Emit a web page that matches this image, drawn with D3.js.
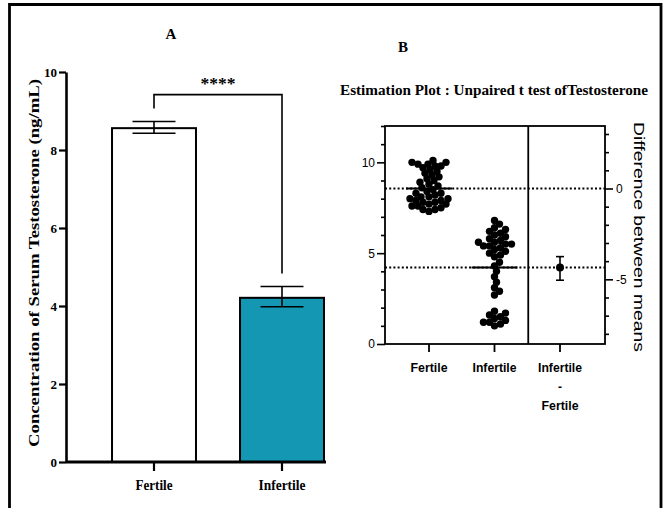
<!DOCTYPE html>
<html>
<head>
<meta charset="utf-8">
<script src="https://cdn.jsdelivr.net/npm/d3@7"></script>
<style>
  body { margin: 0; background: #fff; }
  svg { display: block; }
</style>
</head>
<body>
<svg id="chart"></svg>
<script>
// ---- data, panel A (bar chart of means with SEM) ----
const groups = ["Fertile", "Infertile"];
const meanConc = [8.56, 4.21];
const errLow = [8.43, 3.98];
const errHigh = [8.73, 4.50];
const barColors = ["#ffffff", "#1497b2"];
const yTicksA = [0, 2, 4, 6, 8, 10];
const sigLabel = "****";

// ---- data, panel B (estimation plot) ----
const fertileValues = [10.1, 10.0, 10.0, 9.9, 9.9, 9.8, 9.8, 9.7, 9.6, 9.5,
  9.4, 9.3, 9.2, 9.1, 9.0, 8.9, 8.8, 8.7, 8.6, 8.5,
  8.4, 8.3, 8.3, 8.2, 8.1, 8.1, 8.0, 8.0, 7.9, 7.9,
  7.8, 7.8, 7.7, 7.7, 7.6, 7.6, 7.5, 7.4, 7.4, 7.3];
const infertileValues = [6.8, 6.6, 6.4, 6.3, 6.2, 6.1, 6.0, 5.9, 5.8, 5.7,
  5.6, 5.6, 5.5, 5.5, 5.4, 5.4, 5.3, 5.2, 5.1, 5.0, 4.9, 4.8,
  4.5, 4.3, 4.0, 3.7, 3.4, 3.1, 2.9, 2.7,
  1.8, 1.7, 1.6, 1.5, 1.4, 1.3, 1.2, 1.2, 1.1, 1.0];
const estGroups = ["Fertile", "Infertile", "Infertile - Fertile"];
const diffMean = [-4.35];
const diffCI = [-5.05, -3.75];
const yTicksB = d3.range(0, 13);
const dTicksB = d3.range(-8, 4);

const serif = "'Liberation Serif', 'Times New Roman', serif";
const sans = "'Liberation Sans', Arial, sans-serif";

const svg = d3.select("#chart")
    .attr("width", 664)
    .attr("height", 508);

svg.append("rect").attr("width", 664).attr("height", 508).attr("fill", "#fff");

// outer frame (open at the bottom)
svg.append("path")
    .attr("d", "M9.5,520 V4.5 H661 V520")
    .attr("fill", "none")
    .attr("stroke", "#000")
    .attr("stroke-width", 2.8);

//////////////////////////// panel A
const xA = d3.scaleBand()
    .domain(groups)
    .range([90, 346])
    .paddingInner(0.344)
    .paddingOuter(0.172);

const yA = d3.scaleLinear()
    .domain([0, 10])
    .range([462, 72]);

const gA = svg.append("g");

gA.append("text")
    .attr("x", 171).attr("y", 39)
    .attr("text-anchor", "middle")
    .style("font", "bold 15px " + serif)
    .text("A");

// bars
gA.selectAll(".bar")
    .data(groups)
    .enter()
    .append("rect")
    .attr("class", "bar")
    .attr("x", d => xA(d))
    .attr("y", (d, i) => yA(meanConc[i]))
    .attr("width", xA.bandwidth())
    .attr("height", (d, i) => yA(0) - yA(meanConc[i]))
    .attr("fill", (d, i) => barColors[i])
    .attr("stroke", "#000")
    .attr("stroke-width", 2);

// error bars
const capW = 43;
groups.forEach((g, i) => {
    const cx = xA(g) + xA.bandwidth() / 2;
    gA.append("line")
        .attr("x1", cx).attr("x2", cx)
        .attr("y1", yA(errHigh[i])).attr("y2", yA(errLow[i]))
        .attr("stroke", "#000").attr("stroke-width", 1.6);
    [errHigh[i], errLow[i]].forEach(v => {
        gA.append("line")
            .attr("x1", cx - capW / 2).attr("x2", cx + capW / 2)
            .attr("y1", yA(v)).attr("y2", yA(v))
            .attr("stroke", "#000").attr("stroke-width", 1.6);
    });
});

// y axis
const yAxisA = gA.append("g")
    .attr("transform", "translate(66,0)")
    .call(d3.axisLeft(yA).tickValues(yTicksA).tickSize(7).tickPadding(2).tickSizeOuter(0));
yAxisA.select(".domain").attr("stroke-width", 2.6);
yAxisA.selectAll(".tick line").attr("stroke-width", 2.2);
yAxisA.selectAll(".tick text")
    .style("font", "bold 13px " + serif)
    .attr("fill", "#000");

// x axis
gA.append("line")
    .attr("x1", 66).attr("x2", 326)
    .attr("y1", yA(0)).attr("y2", yA(0))
    .attr("stroke", "#000").attr("stroke-width", 2.8);
const xLabW = [37, 47];
groups.forEach((g, i) => {
    const cx = xA(g) + xA.bandwidth() / 2;
    gA.append("line")
        .attr("x1", cx).attr("x2", cx)
        .attr("y1", yA(0)).attr("y2", yA(0) + 9)
        .attr("stroke", "#000").attr("stroke-width", 2.2);
    gA.append("text")
        .attr("x", cx).attr("y", 490)
        .attr("text-anchor", "middle")
        .attr("textLength", xLabW[i])
        .attr("lengthAdjust", "spacingAndGlyphs")
        .style("font", "bold 14px " + serif)
        .text(g);
});

// y label
gA.append("text")
    .attr("transform", "translate(39,263) rotate(-90)")
    .attr("text-anchor", "middle")
    .attr("textLength", 368)
    .attr("lengthAdjust", "spacingAndGlyphs")
    .style("font", "bold 14px " + serif)
    .text("Concentration of Serum Testosterone (ng/mL)");

// significance bracket
const c0 = xA(groups[0]) + xA.bandwidth() / 2;
const c1 = xA(groups[1]) + xA.bandwidth() / 2;
const bracketY = yA(9.42);
gA.append("path")
    .attr("d", `M${c0},${yA(errHigh[0]) - 13} V${bracketY} H${c1} V${yA(errHigh[1]) - 13}`)
    .attr("fill", "none")
    .attr("stroke", "#000")
    .attr("stroke-width", 1.6);
gA.append("text")
    .attr("x", (c0 + c1) / 2).attr("y", bracketY - 6)
    .attr("text-anchor", "middle")
    .attr("textLength", 35)
    .attr("lengthAdjust", "spacingAndGlyphs")
    .style("font", "bold 16px " + serif)
    .text(sigLabel);

//////////////////////////// panel B
const xB = d3.scalePoint()
    .domain(estGroups)
    .range([429, 560]);

const yB = d3.scaleLinear()
    .domain([0, 12])
    .range([344, 126]);

const dB = d3.scaleLinear()
    .domain([0 - meanConc[0], 12 - meanConc[0]])
    .range([344, 126]);

const gB = svg.append("g");

gB.append("text")
    .attr("x", 403).attr("y", 52)
    .attr("text-anchor", "middle")
    .style("font", "bold 15px " + serif)
    .text("B");

gB.append("text")
    .attr("x", 494).attr("y", 95)
    .attr("text-anchor", "middle")
    .attr("textLength", 308)
    .attr("lengthAdjust", "spacingAndGlyphs")
    .style("font", "bold 15px " + serif)
    .text("Estimation Plot : Unpaired t test ofTestosterone");

// dotted mean lines
meanConc.forEach(m => {
    gB.append("line")
        .attr("x1", 385).attr("x2", 605)
        .attr("y1", yB(m)).attr("y2", yB(m))
        .attr("stroke", "#000")
        .attr("stroke-width", 2)
        .attr("stroke-dasharray", "2,2.2");
});

// beeswarm positions (dots may overlap, as in the original)
const r = 3.7;
const minGap = 5.8;
function swarm(values, cx) {
    const placed = [];
    const sorted = values.slice().sort((a, b) => a - b);
    sorted.forEach(v => {
        const py = yB(v);
        let off = 0, k = 0;
        while (true) {
            const tryX = cx + off;
            const hit = placed.some(p => (p.x - tryX) ** 2 + (p.y - py) ** 2 < minGap ** 2);
            if (!hit) { placed.push({ x: tryX, y: py }); break; }
            k++;
            off = (k % 2 ? 1 : -1) * Math.ceil(k / 2) * 0.5;
        }
    });
    return placed;
}

const pts = swarm(fertileValues, xB(estGroups[0]))
    .concat(swarm(infertileValues, xB(estGroups[1])));

// mean lines per group
[0, 1].forEach(i => {
    const cx = xB(estGroups[i]);
    gB.append("line")
        .attr("x1", cx - 23).attr("x2", cx + 23)
        .attr("y1", yB(meanConc[i])).attr("y2", yB(meanConc[i]))
        .attr("stroke", "#000").attr("stroke-width", 2);
});

gB.selectAll(".dot")
    .data(pts)
    .enter()
    .append("circle")
    .attr("class", "dot")
    .attr("cx", d => d.x)
    .attr("cy", d => d.y)
    .attr("r", r)
    .attr("fill", "#000");

// difference with CI
const dx = xB(estGroups[2]);
gB.append("line")
    .attr("x1", dx).attr("x2", dx)
    .attr("y1", dB(diffCI[0])).attr("y2", dB(diffCI[1]))
    .attr("stroke", "#000").attr("stroke-width", 1.6);
diffCI.forEach(v => {
    gB.append("line")
        .attr("x1", dx - 4).attr("x2", dx + 4)
        .attr("y1", dB(v)).attr("y2", dB(v))
        .attr("stroke", "#000").attr("stroke-width", 1.6);
});
gB.append("circle")
    .attr("cx", dx).attr("cy", dB(diffMean[0]))
    .attr("r", 4).attr("fill", "#000");

// frame and divider
gB.append("rect")
    .attr("x", 385).attr("y", 126)
    .attr("width", 220).attr("height", 218)
    .attr("fill", "none").attr("stroke", "#000").attr("stroke-width", 1.8);
const divX = (xB(estGroups[1]) + xB(estGroups[2])) / 2 + 1;
gB.append("line")
    .attr("x1", divX).attr("x2", divX)
    .attr("y1", 126).attr("y2", 344)
    .attr("stroke", "#000").attr("stroke-width", 1.8);

// left axis
const yAxisB = gB.append("g")
    .attr("transform", "translate(385,0)")
    .call(d3.axisLeft(yB).tickValues(yTicksB).tickSize(8).tickPadding(2)
        .tickFormat(d => d % 5 === 0 ? d : ""));
yAxisB.select(".domain").remove();
yAxisB.selectAll(".tick line")
    .attr("x2", d => d % 5 === 0 ? -8 : -4)
    .attr("stroke-width", 1.6);
yAxisB.selectAll(".tick text").style("font", "12px " + sans).attr("fill", "#000");

// right axis
const dAxisB = gB.append("g")
    .attr("transform", "translate(605,0)")
    .call(d3.axisRight(dB).tickValues(dTicksB).tickSize(8).tickPadding(3)
        .tickFormat(d => d % 5 === 0 ? d : ""));
dAxisB.select(".domain").remove();
dAxisB.selectAll(".tick line")
    .attr("x2", d => d % 5 === 0 ? 8 : 4)
    .attr("stroke-width", 1.6);
dAxisB.selectAll(".tick text").style("font", "12px " + sans).attr("fill", "#000");

gB.append("text")
    .attr("transform", "translate(634,237) rotate(90)")
    .attr("text-anchor", "middle")
    .attr("textLength", 230)
    .attr("lengthAdjust", "spacingAndGlyphs")
    .style("font", "15px " + sans)
    .text("Difference between means");

// bottom ticks and labels
const xLabB = [37, 44, 44];
estGroups.forEach((g, i) => {
    const cx = xB(g);
    gB.append("line")
        .attr("x1", cx).attr("x2", cx)
        .attr("y1", 344).attr("y2", 352)
        .attr("stroke", "#000").attr("stroke-width", 1.8);
    const lines = g.includes(" - ") ? [g.split(" - ")[0], "-", g.split(" - ")[1]] : [g];
    lines.forEach((t, j) => {
        const w = t === "-" ? 4 : (t === "Fertile" ? 37 : xLabB[i]);
        gB.append("text")
            .attr("x", cx).attr("y", 372 + j * 19)
            .attr("text-anchor", "middle")
            .attr("textLength", w)
            .attr("lengthAdjust", "spacingAndGlyphs")
            .style("font", "bold 13px " + sans)
            .text(t);
    });
});
</script>
</body>
</html>
